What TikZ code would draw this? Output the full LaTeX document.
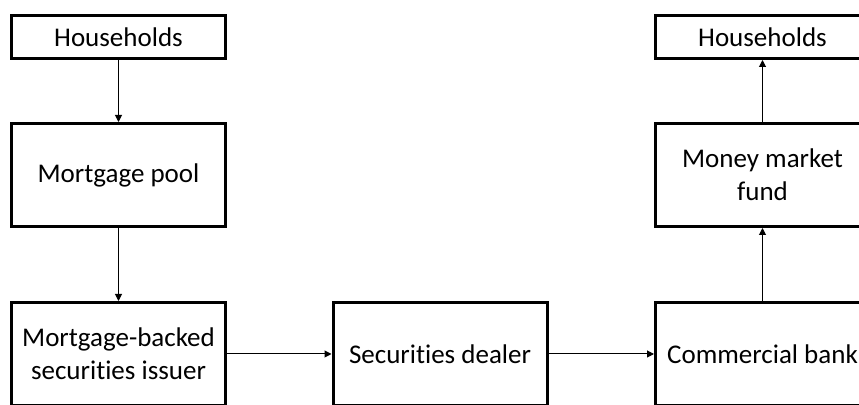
\documentclass[tikz,border=0pt]{standalone}
\usepackage{fontspec}
\setmainfont[Ligatures={NoCommon}]{Carlito}
\usetikzlibrary{arrows.meta}
\newlength{\du}
\setlength{\du}{0.5pt}

\tikzset{
  sector/.style={draw, line width=3\du, minimum width=214\du, align=center, inner sep=0pt, font=\fontsize{13.5}{16.5}\selectfont},
  smallsector/.style={sector, minimum height=43\du},
  bigsector/.style={sector, minimum height=103\du},
  flow/.style={line width=1\du, -{Triangle[length=3.5pt,width=3.5pt]}}
}

\begin{document}
\begin{tikzpicture}
\pgftransformxscale{1.000000}
\pgftransformyscale{-1.000000}
\useasboundingbox (0\du,0\du) rectangle (859\du,405\du);
\clip (0\du,0\du) rectangle (859\du,405\du);
% left column
\node[smallsector] (hhleft) at (118.5\du,37\du){Households};
\node[bigsector] (pool) at (118.5\du,175\du){Mortgage pool};
\node[bigsector] (issuer) at (118.5\du,354\du){Mortgage-backed\\securities issuer};
% middle
\node[bigsector] (dealer) at (440\du,354\du){Securities dealer};
% right column
\node[bigsector] (bank) at (762.5\du,354\du){Commercial bank};
\node[bigsector] (fund) at (762.5\du,175\du){Money market\\fund};
\node[smallsector] (hhright) at (762.5\du,37\du){Households};
% flows
\draw[flow] (hhleft.south) -- (pool.north);
\draw[flow] (pool.south) -- (issuer.north);
\draw[flow] (issuer.east) -- (dealer.west);
\draw[flow] (dealer.east) -- (bank.west);
\draw[flow] (bank.north) -- (fund.south);
\draw[flow] (fund.north) -- (hhright.south);
\end{tikzpicture}
\end{document}
